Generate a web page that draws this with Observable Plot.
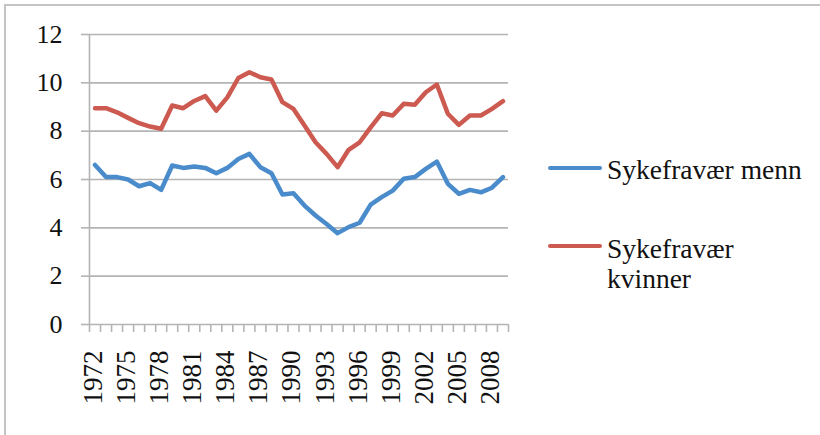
<!DOCTYPE html>
<html>
<head>
<meta charset="utf-8">
<script src="https://cdn.jsdelivr.net/npm/d3@7"></script>
<script src="https://cdn.jsdelivr.net/npm/@observablehq/plot@0.6"></script>
<style>
  html, body { margin: 0; padding: 0; background: #fff; }
  #wrap { position: relative; width: 820px; height: 435px; overflow: hidden; background: #fff; }
  #frame { position: absolute; left: 4px; top: 4px; width: 900px; height: 500px;
           border-left: 2px solid #c4c4c4; border-top: 2px solid #c4c4c4; }
  #chart { position: absolute; left: 0; top: 0; }
  .leg { position: absolute; font-family: "Liberation Serif", serif; font-size: 27.5px; line-height: 30px; color: #111; }
  .sw { position: absolute; width: 54px; height: 4px; border-radius: 2px; }
</style>
</head>
<body>
<div id="wrap">
  <div id="frame"></div>
  <div id="chart"></div>
  <div class="sw" style="left:548px; top:166px; background:#4a8ccb"></div>
  <div class="leg" style="left:607px; top:155px">Sykefravær menn</div>
  <div class="sw" style="left:548px; top:244px; background:#cc5a50"></div>
  <div class="leg" style="left:607px; top:234px">Sykefravær<br>kvinner</div>
</div>
<script>
const years = [1972,1973,1974,1975,1976,1977,1978,1979,1980,1981,1982,1983,1984,1985,1986,1987,1988,1989,1990,
               1991,1992,1993,1994,1995,1996,1997,1998,1999,2000,2001,2002,2003,2004,2005,2006,2007,2008,2009];
const menn = [6.6,6.1,6.1,6.0,5.72,5.85,5.57,6.58,6.48,6.54,6.48,6.26,6.48,6.85,7.06,6.51,6.26,5.38,5.43,
              4.92,4.51,4.16,3.78,4.03,4.21,4.96,5.27,5.54,6.03,6.1,6.44,6.74,5.82,5.41,5.57,5.47,5.66,6.1];
const kvinner = [8.95,8.95,8.78,8.55,8.33,8.19,8.1,9.06,8.95,9.25,9.45,8.85,9.4,10.2,10.44,10.23,10.14,9.2,8.92,
                 8.23,7.54,7.06,6.51,7.23,7.54,8.16,8.74,8.65,9.13,9.09,9.61,9.93,8.72,8.26,8.65,8.65,8.92,9.24];
const labelYears = [1972,1975,1978,1981,1984,1987,1990,1993,1996,1999,2002,2005,2008];
const yTicks = [0,2,4,6,8,10,12];

const bounds = years.map(y => y - 0.5).concat([years[years.length - 1] + 0.5]);
const rows = years.map((y, i) => ({year: y, menn: menn[i], kvinner: kvinner[i]}));

const gray = "#b4b4b4";
const font = "Liberation Serif";

const chart = Plot.plot({
  width: 820,
  height: 435,
  marginLeft: 89,
  marginRight: 312,
  marginTop: 34,
  marginBottom: 111,
  style: {fontFamily: font, color: "#111", background: "transparent"},
  x: {domain: [bounds[0], bounds[bounds.length - 1]], axis: null, label: null},
  y: {domain: [0, 12], axis: null, label: null},
  marks: [
    Plot.gridY(yTicks, {stroke: gray, strokeWidth: 1.6, strokeOpacity: 1}),
    Plot.axisY(yTicks, {tickSize: 8, tickPadding: 19, fontSize: 26, stroke: gray, strokeWidth: 1.6, fill: "#111", fontFamily: font, label: null}),
    Plot.axisX(bounds, {tickSize: 8, tickFormat: () => "", stroke: gray, strokeWidth: 1.6, label: null}),
    Plot.ruleX([bounds[0]], {stroke: gray, strokeWidth: 1.6}),
    Plot.line(rows, {x: "year", y: "kvinner", stroke: "#cc5a50", strokeWidth: 4.5, strokeLinejoin: "round", strokeLinecap: "round"}),
    Plot.line(rows, {x: "year", y: "menn", stroke: "#4a8ccb", strokeWidth: 4.5, strokeLinejoin: "round", strokeLinecap: "round"}),
    Plot.text(labelYears, {x: d => d, frameAnchor: "bottom", text: d => String(d), rotate: -90, textAnchor: "end",
                           dy: 26, dx: 7, fontSize: 27, fill: "#111", fontFamily: font})
  ]
});
document.getElementById("chart").appendChild(chart);
</script>
</body>
</html>
